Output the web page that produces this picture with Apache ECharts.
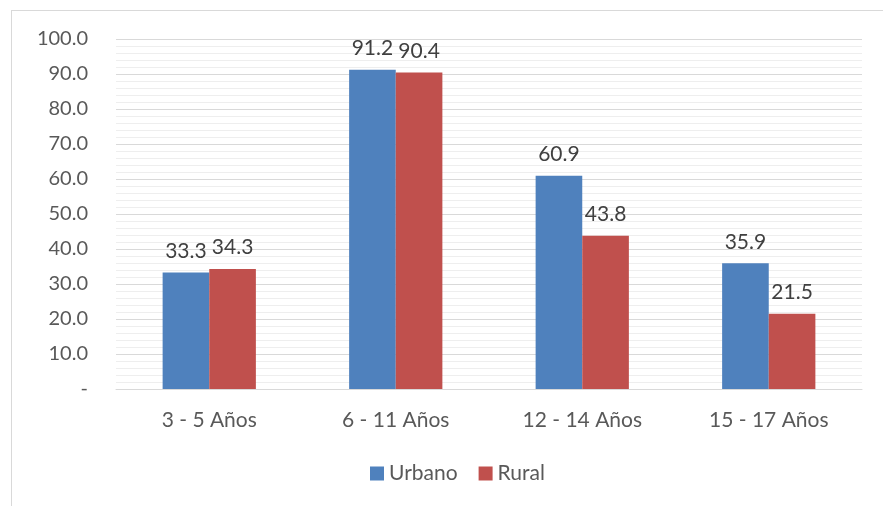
<!DOCTYPE html>
<html><head><meta charset="utf-8">
<script src="https://cdn.jsdelivr.net/npm/echarts@6/dist/echarts.min.js"></script>
<style>
html,body{margin:0;padding:0;background:#fff;}
#frame{position:absolute;left:11px;top:10px;width:900px;height:520px;border:1px solid #d9d9d9;box-sizing:border-box;}
#c{position:absolute;left:0;top:0;width:883px;height:506px;}
</style></head>
<body>
<div id="frame"></div>
<div id="c"></div>
<script>
const categories = ['3 - 5 Años', '6 - 11 Años', '12 - 14 Años', '15 - 17 Años'];
const urbano = [33.3, 91.2, 60.9, 35.9];
const rural = [34.3, 90.4, 43.8, 21.5];
const seriesNames = ['Urbano', 'Rural'];

const font = 'Lato, "Open Sans", sans-serif';
const chart = echarts.init(document.getElementById('c'));
const labelOpt = {
  show: true, position: 'top', distance: 11,
  color: '#404040', fontSize: 21, fontFamily: font,
  formatter: p => p.value.toFixed(1)
};
chart.setOption({
  animation: false,
  textStyle: { fontFamily: font },
  grid: { left: 116, right: 21, top: 39, bottom: 117, containLabel: false },
  legend: {
    left: 365, top: 458, itemWidth: 14, itemHeight: 14, itemGap: 21,
    icon: 'rect',
    textStyle: { color: '#595959', fontSize: 21, fontFamily: font },
    data: seriesNames
  },
  xAxis: {
    type: 'category', data: categories,
    axisLine: { lineStyle: { color: '#d9d9d9', width: 1 } },
    axisTick: { show: false },
    axisLabel: { color: '#595959', fontSize: 21, fontFamily: font, margin: 21 }
  },
  yAxis: {
    type: 'value', min: 0, max: 100, interval: 10,
    axisLine: { show: false }, axisTick: { show: false },
    axisLabel: { color: '#595959', fontSize: 20, fontFamily: font, margin: 28,
      formatter: v => v === 0 ? '-' : v.toFixed(1) },
    splitLine: { lineStyle: { color: '#d9d9d9', width: 1 } },
    minorTick: { show: false, splitNumber: 5 },
    minorSplitLine: { show: true, lineStyle: { color: '#eeeeee', width: 1 } }
  },
  series: [
    { name: seriesNames[0], type: 'bar', data: urbano, barWidth: '25%', barGap: '0%',
      itemStyle: { color: '#4f81bd' }, label: labelOpt },
    { name: seriesNames[1], type: 'bar', data: rural, barWidth: '25%', barGap: '0%',
      itemStyle: { color: '#c0504d' }, label: labelOpt }
  ]
});
</script>
</body></html>
